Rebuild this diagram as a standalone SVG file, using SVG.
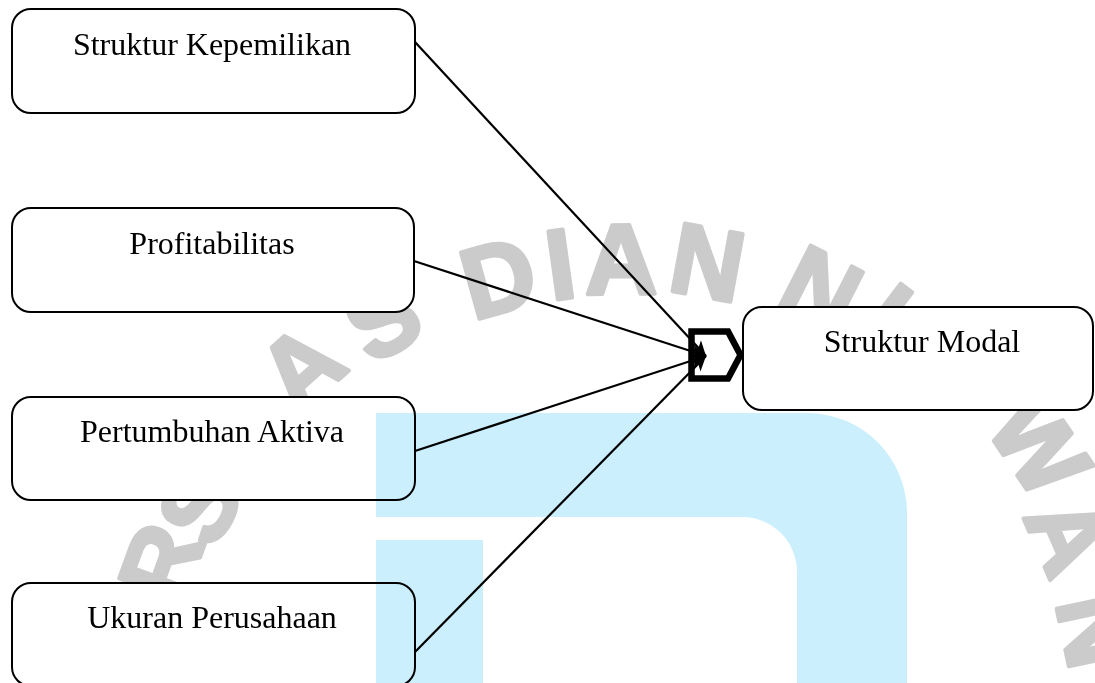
<svg xmlns="http://www.w3.org/2000/svg" width="1095" height="683" viewBox="0 0 1095 683">
<style>
.box{fill:#fff;stroke:#000;stroke-width:2}
.lbl{font-family:"Liberation Serif","Times New Roman",serif;font-size:32px;fill:#000;text-anchor:middle}
.wm{font-family:"Liberation Sans",Arial,sans-serif;font-weight:bold;font-size:100px;fill:#cbcbcb;stroke:#cbcbcb;stroke-width:4;stroke-linejoin:round;text-anchor:middle}
.blue{fill:#cbeffc;mix-blend-mode:multiply}
.con{stroke:#000;stroke-width:2.2;fill:none;marker-end:url(#ah)}
</style>
<defs>
<marker id="ah" markerUnits="userSpaceOnUse" markerWidth="16" markerHeight="14" refX="15" refY="7" orient="auto">
<path d="M0,0 L15,7 L0,14 L4,7 Z" fill="#000"/>
</marker>
</defs>
<rect width="1095" height="683" fill="#fff"/>
<g id="watermark">
<text class="wm" transform="translate(160,562) rotate(-70)" y="36">R</text>
<text class="wm" transform="translate(198,505) rotate(-62)" y="36">S</text>
<text class="wm" transform="translate(300,366) rotate(-42)" y="36">A</text>
<text class="wm" transform="translate(382,318) rotate(-30.5)" y="36">S</text>
<text class="wm" transform="translate(498,276) rotate(-15.6)" y="36">D</text>
<text class="wm" transform="translate(560,263) rotate(-7.9)" y="36">I</text>
<text class="wm" transform="translate(621,258) rotate(-0.5)" y="36">A</text>
<text class="wm" transform="translate(708,261) rotate(10.3)" y="36">N</text>
<text class="wm" transform="translate(822,288) rotate(27)" y="36">N</text>
<text class="wm" transform="translate(905,328) rotate(37)" y="36">U</text>
<text class="wm" transform="translate(1040,445) rotate(55.8)" y="36">W</text>
<text class="wm" transform="translate(1070,535) rotate(66.6)" y="36">A</text>
<text class="wm" transform="translate(1098,630) rotate(78)" y="36">N</text>
</g>
<g id="n1"><rect class="box" x="12" y="9" width="403" height="104" rx="19"/><text class="lbl" x="212" y="55">Struktur Kepemilikan</text></g>
<g id="n2"><rect class="box" x="12" y="208" width="402" height="104" rx="19"/><text class="lbl" x="212" y="254">Profitabilitas</text></g>
<g id="n3"><rect class="box" x="12" y="397" width="403" height="103" rx="19"/><text class="lbl" x="212" y="442">Pertumbuhan Aktiva</text></g>
<g id="n4"><rect class="box" x="12" y="583" width="403" height="103" rx="19"/><text class="lbl" x="212" y="628">Ukuran Perusahaan</text></g>
<g id="n5"><rect class="box" x="743" y="307" width="350" height="103" rx="19"/><text class="lbl" x="922" y="352">Struktur Modal</text></g>
<g id="bg-blue">
<path class="blue" d="M376,413 H807 A100,100 0 0 1 907,513 V683 H797 V572 A55,55 0 0 0 742,517 H376 Z"/>
<rect class="blue" x="376" y="540" width="107" height="143"/>
</g>
<g id="connectors">
<line class="con" x1="415" y1="42" x2="706" y2="356"/>
<line class="con" x1="414" y1="261" x2="706" y2="356"/>
<line class="con" x1="415" y1="451" x2="706" y2="356"/>
<line class="con" x1="415" y1="652" x2="706" y2="356"/>
</g>
<g id="junction">
<polygon points="691.5,331.5 728,331.5 740.5,355 728,378.5 691.5,378.5" fill="none" stroke="#000" stroke-width="6.5"/>
</g>
</svg>
